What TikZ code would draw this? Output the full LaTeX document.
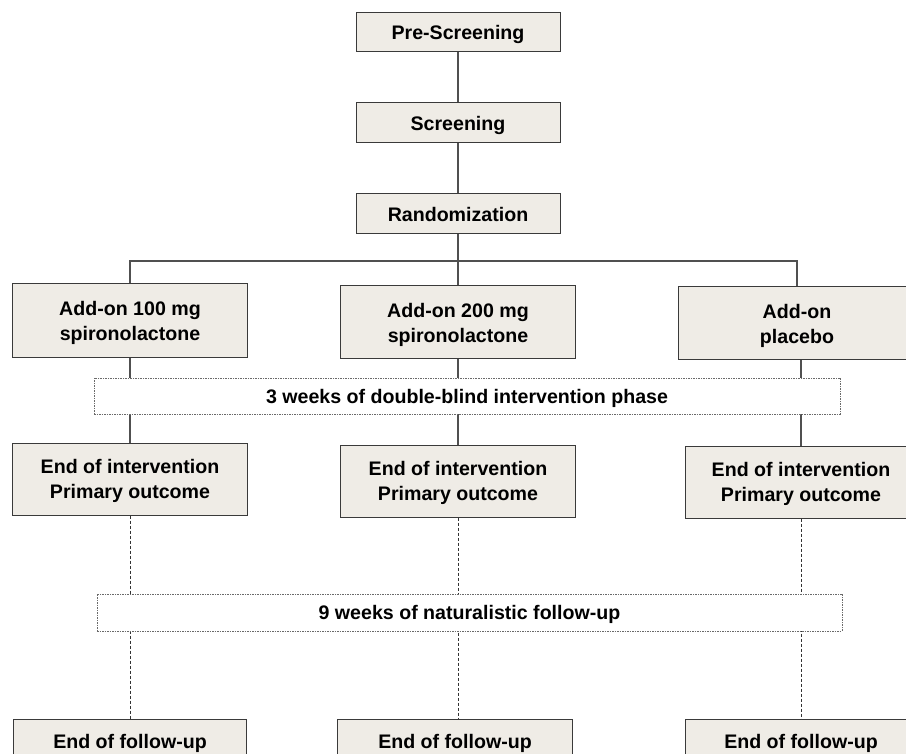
\documentclass[tikz,border=0pt]{standalone}
\usepackage{fontspec}
\setmainfont{Liberation Sans}
\definecolor{boxfill}{HTML}{EFECE6}
\definecolor{boxline}{HTML}{3A3A3A}
\definecolor{conn}{HTML}{505050}
\definecolor{dashline}{HTML}{6A6A6A}
\begin{document}
\begin{tikzpicture}[x=1pt,y=-1pt,
  every node/.style={font=\fontsize{19.6}{25}\selectfont\bfseries, align=center, inner sep=0pt, text depth=0pt},
  stepbox/.style={draw=boxline, line width=1pt, fill=boxfill},
  phasebox/.style={draw=dashline, line width=0.9pt, fill=white, dash pattern=on 1.5pt off 1pt},
  link/.style={draw=conn, line width=1.3pt},
  dlink/.style={draw=black!80, line width=1pt, dash pattern=on 3pt off 2pt}]
\clip (0,0) rectangle (906,754);
\fill[white] (0,0) rectangle (906,754);
% top column
\node[stepbox, minimum width=204, minimum height=39] (pre) at (458,32.5) {Pre-Screening};
\node[stepbox, minimum width=204, minimum height=40] (scr) at (458,123) {Screening};
\node[stepbox, minimum width=204, minimum height=40] (rand) at (458,214) {Randomization};
% arms
\node[stepbox, minimum width=235, minimum height=74] (a1) at (130,321) {Add-on 100 mg\\spironolactone};
\node[stepbox, minimum width=235, minimum height=73] (a2) at (458,322.5) {Add-on 200 mg\\spironolactone};
\node[stepbox, minimum width=238, minimum height=73] (a3) at (797,323.5) {Add-on\\placebo};
% end of intervention
\node[stepbox, minimum width=235, minimum height=72] (e1) at (130,479) {End of intervention\\Primary outcome};
\node[stepbox, minimum width=235, minimum height=72] (e2) at (458,481) {End of intervention\\Primary outcome};
\node[stepbox, minimum width=232, minimum height=72] (e3) at (801,482) {End of intervention\\Primary outcome};
% end of follow-up
\node[stepbox, minimum width=233, minimum height=72] (f1) at (130,755) {};
\node[stepbox, minimum width=235, minimum height=72] (f2) at (455,755) {};
\node[stepbox, minimum width=232, minimum height=72] (f3) at (801,755) {};
\node (f1t) at (130,741.5) {End of follow-up};
\node (f2t) at (455,741.5) {End of follow-up};
\node (f3t) at (801,741.5) {End of follow-up};
% connectors
\coordinate (br) at (458,261);
\draw[link] (pre) -- (scr);
\draw[link] (scr) -- (rand);
\draw[link] (rand.south) -- (br);
\draw[link] (a1.north) |- (br) -| (a3.north);
\draw[link] (br) -- (a2.north);
\draw[link] (a1) -- (e1);
\draw[link] (a2) -- (e2);
\draw[link] (e3.north |- a3.south) -- (e3.north);
\draw[dlink] (e1) -- (f1);
\draw[dlink] (e2.south) -- (e2.south |- f2.north);
\draw[dlink] (e3) -- (f3);
% phase boxes
\node[phasebox, minimum width=746, minimum height=36] (p1) at (467,396) {3 weeks of double-blind intervention phase};
\node[phasebox, minimum width=745, minimum height=37] (p2) at (469.5,612.5) {9 weeks of naturalistic follow-up};
\end{tikzpicture}
\end{document}
